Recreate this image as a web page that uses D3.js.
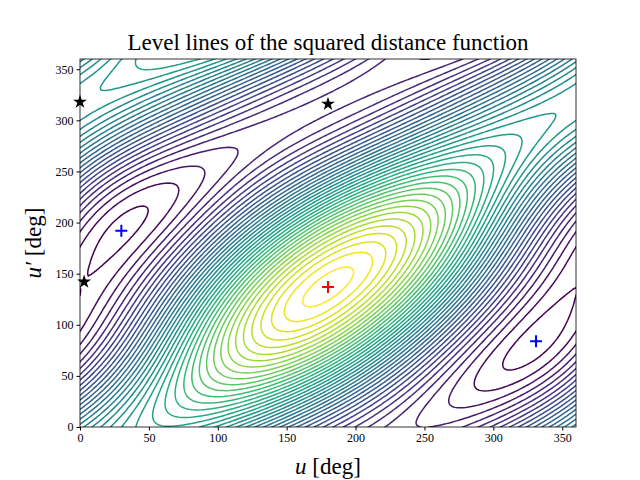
<!DOCTYPE html>
<html><head><meta charset="utf-8">
<script src="https://cdn.jsdelivr.net/npm/d3@7"></script>
<style>body{margin:0;background:#fff}</style>
</head><body>
<svg id="chart" width="640" height="480"></svg>
<script>
// critical points (deg)
const maxPoints = [[180, 137]];
const minPoints = [[30, 192], [331, 84]];
const saddlePoints = [[0, 318], [3, 142], [180, 316]];
const tickValues = [0, 50, 100, 150, 200, 250, 300, 350];
const levelCount = 40;

// Fourier modes (m, n) -> cos(m u + n v), sin(m u + n v); penalty grows with order
const modes = [[1,0],[0,1],[1,-1],[1,1],[2,0],[0,2],[2,-2],[2,-1],[1,-2],[2,1],[1,2]];
const rad = Math.PI / 180;
const penalty = modes.map(([m, n]) => (m === 2 || n === 2 || n === -2) ? 20 : 1);

// prior: mostly a function of u - u', plus terms in u + u' and u
const prior = [];
modes.forEach(([m, n]) => {
  if (m === 1 && n === -1) prior.push(Math.cos(43 * rad), Math.sin(43 * rad));
  else if (m === 1 && n === 1) prior.push(0.15 * Math.cos(317 * rad), 0.15 * Math.sin(317 * rad));
  else if (m === 1 && n === 0) prior.push(-0.3, 0);
  else prior.push(0, 0);
});
const W8 = [];
penalty.forEach(p => W8.push(1 / p, 1 / p));

function gradRows(u, v) {
  const du = [], dv = [];
  modes.forEach(([m, n]) => {
    const t = (m * u + n * v) * rad;
    du.push(-m * Math.sin(t), m * Math.cos(t));
    dv.push(-n * Math.sin(t), n * Math.cos(t));
  });
  return [du, dv];
}

function solve(A, b) {
  const n = b.length;
  const M = A.map((r, i) => r.concat([b[i]]));
  for (let c = 0; c < n; c++) {
    let p = c;
    for (let r = c + 1; r < n; r++) if (Math.abs(M[r][c]) > Math.abs(M[p][c])) p = r;
    [M[c], M[p]] = [M[p], M[c]];
    for (let r = 0; r < n; r++) {
      if (r === c) continue;
      const f = M[r][c] / M[c][c];
      for (let k = c; k <= n; k++) M[r][k] -= f * M[c][k];
    }
  }
  return M.map((r, i) => r[n] / r[i]);
}

// weighted projection of the prior so the gradient vanishes at every critical point
const G = [];
maxPoints.concat(minPoints, saddlePoints).forEach(([u, v]) => G.push(...gradRows(u, v)));
const GGt = G.map(a => G.map(b => d3.sum(a, (x, i) => x * b[i] * W8[i])));
const Gc = G.map(r => d3.sum(r, (x, i) => x * prior[i]));
const lam = solve(GGt, Gc);
const coef = prior.map((c, i) => c - W8[i] * d3.sum(G, (r, k) => r[i] * lam[k]));

function field(u, v) {
  let s = 0;
  modes.forEach(([m, n], k) => {
    const t = (m * u + n * v) * rad;
    s += coef[2 * k] * Math.cos(t) + coef[2 * k + 1] * Math.sin(t);
  });
  return s;
}

const step = 2, N = 181;
const values = new Array(N * N);
for (let j = 0; j < N; j++) for (let i = 0; i < N; i++) values[j * N + i] = field(i * step, j * step);

const svg = d3.select("#chart");
const margin = {left: 80, right: 64, top: 59, bottom: 53};
const W = 640 - margin.left - margin.right, H = 480 - margin.top - margin.bottom;
const x = d3.scaleLinear().domain([0, 360]).range([margin.left, margin.left + W]);
const y = d3.scaleLinear().domain([0, 360]).range([margin.top + H, margin.top]);

const fMin = d3.min(values), fMax = d3.max(values);
const thresholds = d3.range(levelCount).map(i => fMin + (fMax - fMin) * (i + 0.5) / levelCount);
const color = d3.scaleSequential(d3.interpolateViridis).domain([thresholds[0], thresholds[levelCount - 1]]);

const contours = d3.contours().size([N, N]).thresholds(thresholds).smooth(true)(values);
const path = d3.geoPath(d3.geoTransform({
  point(px, py) { this.stream.point(x((px - 0.5) * step), y((py - 0.5) * step)); }
}));

svg.append("clipPath").attr("id", "clip").append("rect")
  .attr("x", margin.left).attr("y", margin.top).attr("width", W).attr("height", H);

svg.append("g").attr("clip-path", "url(#clip)")
  .selectAll("path").data(contours).enter().append("path")
  .attr("d", path).attr("fill", "none")
  .attr("stroke", d => color(d.value)).attr("stroke-width", 1.5);

// markers
const star = d3.symbol().type(d3.symbolStar).size(60);
const marks = svg.append("g");
saddlePoints.forEach(([u, v]) => marks.append("path").attr("d", star())
  .attr("transform", `translate(${x(u)},${y(v)})`).attr("fill", "black"));
const plus = (u, v, c) => marks.append("path")
  .attr("d", `M-6,0H6M0,-6V6`).attr("transform", `translate(${x(u)},${y(v)})`)
  .attr("stroke", c).attr("stroke-width", 2);
minPoints.forEach(([u, v]) => plus(u, v, "blue"));
maxPoints.forEach(([u, v]) => plus(u, v, "red"));

// axes
const font = "'Liberation Serif', 'DejaVu Serif', serif";
const xAxis = svg.append("g").attr("transform", `translate(0,${margin.top + H})`)
  .call(d3.axisBottom(x).tickValues(tickValues).tickSizeOuter(0).tickSize(3.5));
const yAxis = svg.append("g").attr("transform", `translate(${margin.left},0)`)
  .call(d3.axisLeft(y).tickValues(tickValues).tickSizeOuter(0).tickSize(3.5));
[xAxis, yAxis].forEach(a => { a.selectAll("text").attr("font-family", font).attr("font-size", 12).attr("fill", "#000"); a.select(".domain").remove(); });
svg.append("rect").attr("x", margin.left).attr("y", margin.top).attr("width", W).attr("height", H)
  .attr("fill", "none").attr("stroke", "#000").attr("stroke-width", 0.8);

svg.append("text").attr("x", margin.left + W / 2).attr("y", 50).attr("text-anchor", "middle")
  .attr("font-family", font).attr("font-size", 23).text("Level lines of the squared distance function");
const xl = svg.append("text").attr("x", margin.left + W / 2).attr("y", 474).attr("text-anchor", "middle")
  .attr("font-family", font).attr("font-size", 23);
xl.append("tspan").attr("font-style", "italic").text("u");
xl.append("tspan").text(" [deg]");
const yl = svg.append("text").attr("transform", `translate(41,${margin.top + H / 2}) rotate(-90)`)
  .attr("text-anchor", "middle").attr("font-family", font).attr("font-size", 23);
yl.append("tspan").attr("font-style", "italic").text("u′");
yl.append("tspan").text(" [deg]");
</script>
</body></html>
